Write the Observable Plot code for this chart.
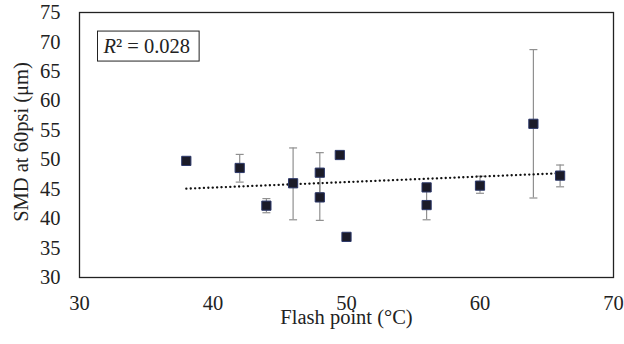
<!DOCTYPE html>
<html>
<head>
<meta charset="utf-8">
<script src="https://cdn.jsdelivr.net/npm/d3@7"></script>
<script src="https://cdn.jsdelivr.net/npm/@observablehq/plot@0.6"></script>
<style>
  html, body { margin: 0; padding: 0; background: #fff; }
  svg text { font-family: "Liberation Serif", serif; }
</style>
</head>
<body>
<div id="chart"></div>
<script>
// Data
const flashPoint = [38, 42, 44, 46, 48, 48, 49.5, 50, 56, 56, 60, 64, 66];
const smd        = [49.8, 48.6, 42.2, 46.0, 47.8, 43.6, 50.8, 36.9, 45.3, 42.3, 45.6, 56.1, 47.3];
const errLow     = [null, 46.2, 41.0, 39.8, 44.4, 39.7, null, null, null, 39.8, 44.3, 43.5, 45.4];
const errHigh    = [null, 50.9, 43.4, 52.0, 51.2, 47.5, null, null, null, 44.8, 47.2, 68.7, 49.1];
const xTicks = [30, 40, 50, 60, 70];
const yTicks = [30, 35, 40, 45, 50, 55, 60, 65, 70, 75];
const xLabel = "Flash point (°C)";
const yLabel = "SMD at 60psi (μm)";
const r2Text = "R² = 0.028";

const data = flashPoint.map((x, i) => ({x, y: smd[i], lo: errLow[i], hi: errHigh[i]}));
const errData = data.filter(d => d.lo != null);

const capSymbol = {
  draw(ctx, size) {
    const h = Math.sqrt(size) / 2;
    ctx.moveTo(-h, 0);
    ctx.lineTo(h, 0);
  }
};

const FS = 20.5;

const chart = Plot.plot({
  width: 624,
  height: 344,
  marginLeft: 79,
  marginTop: 12,
  marginRight: 11,
  marginBottom: 67,
  style: {fontFamily: "Liberation Serif", fontSize: FS + "px", color: "#222", background: "#fff"},
  x: {domain: [30, 70], ticks: xTicks, label: null},
  y: {domain: [30, 75], ticks: yTicks, label: null},
  marks: [
    Plot.axisX({ticks: xTicks, tickSize: 0, tickPadding: 18, label: null, fontSize: FS}),
    Plot.axisY({ticks: yTicks, tickSize: 0, tickPadding: 19, label: null, fontSize: FS}),
    Plot.ruleX(errData, {x: "x", y1: "lo", y2: "hi", stroke: "#909090", strokeWidth: 1.2}),
    Plot.dot(errData, {x: "x", y: "lo", symbol: capSymbol, r: 4.5, stroke: "#909090", strokeWidth: 1.2}),
    Plot.dot(errData, {x: "x", y: "hi", symbol: capSymbol, r: 4.5, stroke: "#909090", strokeWidth: 1.2}),
    Plot.linearRegressionY(data, {x: "x", y: "y", ci: 0, stroke: "#111", strokeWidth: 2.3, strokeDasharray: "0.1,4.3", strokeLinecap: "round"}),
    Plot.dot(data, {x: "x", y: "y", symbol: "square", r: 5.2, fill: "#1b1b28", stroke: "#2c386a", strokeWidth: 1}),
    Plot.frame({stroke: "#222", strokeWidth: 1.3}),
    Plot.text([xLabel], {text: d => d, frameAnchor: "bottom", dy: 46, textAnchor: "middle", lineAnchor: "bottom", fontSize: FS, fill: "#222"}),
    Plot.text([yLabel], {text: d => d, frameAnchor: "left", dx: -58, dy: -3, rotate: -90, textAnchor: "middle", lineAnchor: "middle", fontSize: FS, fill: "#222"}),
    Plot.text([r2Text], {text: d => d, frameAnchor: "top-left", dx: 24, dy: 34, textAnchor: "start", lineAnchor: "middle", fontSize: FS, fill: "#222", className: "r2label"})
  ]
});

document.getElementById("chart").appendChild(chart);

// Style the R² label (italic R) and draw its box
const r2 = chart.querySelector(".r2label text");
if (r2) {
  r2.textContent = "";
  const t1 = document.createElementNS("http://www.w3.org/2000/svg", "tspan");
  t1.setAttribute("font-style", "italic");
  t1.textContent = "R";
  const t2 = document.createElementNS("http://www.w3.org/2000/svg", "tspan");
  t2.textContent = r2Text.slice(1);
  r2.appendChild(t1);
  r2.appendChild(t2);
  const bb = r2.getBBox();
  const g = r2.parentNode;
  const rect = document.createElementNS("http://www.w3.org/2000/svg", "rect");
  const padL = 5, padR = 9, padY = 4;
  rect.setAttribute("x", bb.x - padL);
  rect.setAttribute("y", bb.y - padY);
  rect.setAttribute("width", bb.width + padL + padR);
  rect.setAttribute("height", bb.height + 2 * padY);
  rect.setAttribute("fill", "#fff");
  rect.setAttribute("stroke", "#222");
  rect.setAttribute("stroke-width", "1");
  const tr = r2.getAttribute("transform");
  if (tr) rect.setAttribute("transform", tr);
  g.insertBefore(rect, r2);
}
</script>
</body>
</html>
